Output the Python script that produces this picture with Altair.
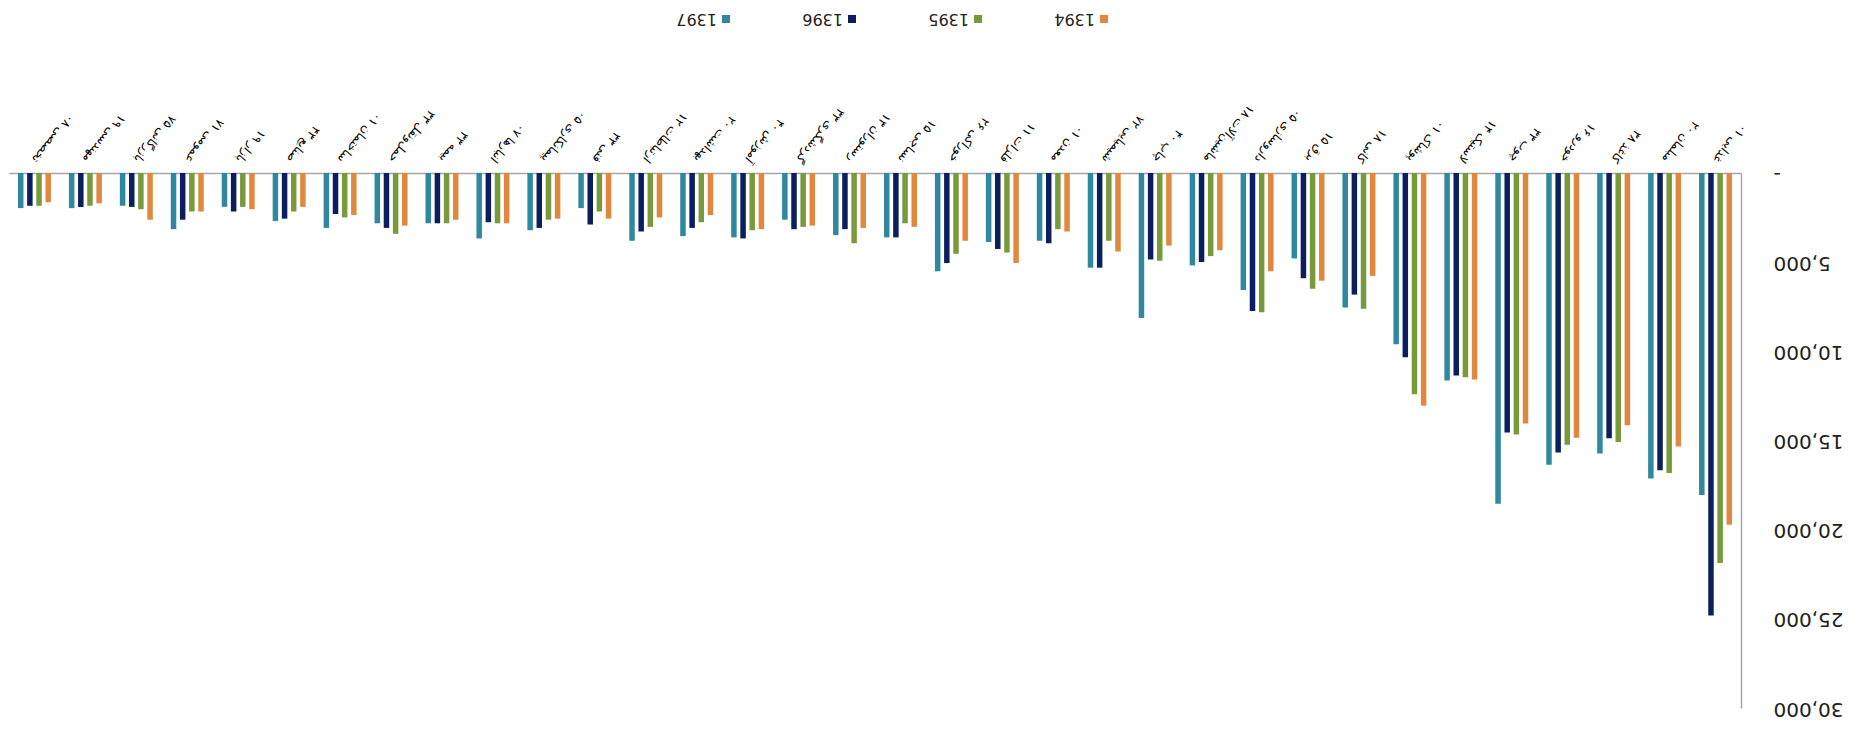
import altair as alt
import pandas as pd

categories = ["تخصصی ۰۸", "مهندسی ۱۹", "بازرگانی ۷۵", "عمومی ۷۱", "بازار ۱۹", "صنایع ۴۳",
              "ساختمان ۰۱", "حمل‌ونقل ۳۳", "بیمه ۳۳", "انبارها ۰۷", "پیمانکاری ۰۵", "فنی ۳۳",
              "ارتباطات ۱۲", "بهداشت ۲۰", "آموزش ۴۰", "گردشگری ۳۳", "رستوران ۱۳", "نساجی ۱۵",
              "خوراکی ۲۶", "فلزات ۱۱", "معدن ۰۱", "شیمیایی ۷۲", "چاپ ۴۰", "ماشین‌آلات ۱۸",
              "داروسازی ۰۵", "برق ۱۵", "کانی ۱۸", "پوشاک ۰۱", "لاستیک ۱۴", "چوب ۳۳",
              "خودرو ۱۶", "کاغذ ۳۸", "مبلمان ۲۰", "غذایی ۰۱"]
years = ["1397", "1396", "1395", "1394"]
colors = ["#2F88A0", "#0B1F5E", "#789A3B", "#E1883F"]

v1397 = [1970, 1970, 1840, 3150, 1900, 2690, 3080, 2820, 2820, 3670, 3210, 1970, 3800, 3540, 3610, 2620, 3480,
         3610, 5510, 3870, 3800, 5310, 8130, 5180, 6560, 4790, 7540, 9600, 11640, 18550, 16360, 15730, 17130, 18050]
v1396 = [1840, 1900, 1900, 2620, 2160, 2560, 2300, 3080, 2820, 2760, 3080, 2890, 3280, 3080, 3670, 3150, 3150,
         3610, 5050, 4260, 3940, 5310, 4850, 4990, 7740, 5900, 6820, 10330, 11360, 14550, 15670, 14870, 16670, 24820]
v1395 = [1840, 1840, 2030, 2160, 1900, 2160, 2490, 3410, 2820, 2820, 2620, 2160, 3020, 2760, 3210, 3020, 3940,
         2820, 4530, 4460, 3150, 3800, 4920, 4660, 7810, 6490, 7610, 12400, 11450, 14670, 15240, 15090, 16820, 21870]
v1394 = [1640, 1700, 2620, 2160, 2030, 1900, 2360, 2950, 2620, 2820, 2560, 2560, 2490, 2360, 3150, 2950, 3080,
         3020, 3800, 5050, 3280, 4400, 4070, 4330, 5510, 6040, 5770, 13050, 11580, 14040, 14850, 14150, 15330, 19730]
y_ticks = [0, 5000, 10000, 15000, 20000, 25000, 30000]

rows = []
for i, c in enumerate(categories):
    for yr, vals in zip(years, [v1397, v1396, v1395, v1394]):
        rows.append({"cat": c, "year": yr, "value": vals[i]})
df = pd.DataFrame(rows)

AXIS_GRAY = "#A6A6A6"

x_enc = alt.X("cat:N", sort=categories,
              scale=alt.Scale(paddingInner=0.281, paddingOuter=0.14),
              axis=alt.Axis(orient="top", title=None, labelAngle=130, labelAlign="right",
                            labelBaseline="middle", labelPadding=12, ticks=False,
                            domainColor=AXIS_GRAY, domainWidth=1.5, labelFont="DejaVu Sans",
                            labelFontSize=12, labelColor="black", labelLimit=0))
xo_enc = alt.XOffset("year:N", sort=years, scale=alt.Scale(paddingInner=0.4, paddingOuter=0.2))
y_enc = alt.Y("value:Q", scale=alt.Scale(domain=[0, 30000], reverse=True, nice=False),
              axis=alt.Axis(orient="right", values=y_ticks, title=None,
                            labelExpr="datum.value == 0 ? '-\u00a0\u00a0' : format(datum.value, ',')",
                            labelAngle=180, labelAlign="right", labelBaseline="middle",
                            labelPadding=32, ticks=False, grid=False, domainColor=AXIS_GRAY,
                            domainWidth=1.5, labelFont="DejaVu Sans", labelFontSize=20,
                            labelColor="#222222"))

bars = alt.Chart(df).mark_bar().encode(
    x=x_enc, xOffset=xo_enc, y=y_enc,
    color=alt.Color("year:N", scale=alt.Scale(domain=years, range=colors), legend=None),
)

layers = [bars]
legend_x = [717, 843, 969, 1095]
for yr, col, lx in zip(years, colors, legend_x):
    d = pd.DataFrame({"year": [yr]})
    sq = alt.Chart(d).mark_square(size=64, color=col, opacity=1).encode(
        x=alt.value(lx), y=alt.value(-154))
    tx = alt.Chart(d).mark_text(angle=180, align="left", baseline="middle", fontSize=16,
                                font="DejaVu Sans", color="#222222").encode(
        x=alt.value(lx - 9), y=alt.value(-154), text="year:N")
    layers += [sq, tx]

chart = alt.layer(*layers).properties(
    width=1732, height=535,
    padding={"left": 1, "top": 2, "right": 4, "bottom": 6},
).configure_view(stroke=None)

chart.save("out.html", embed_options={"renderer": "svg", "actions": False})
